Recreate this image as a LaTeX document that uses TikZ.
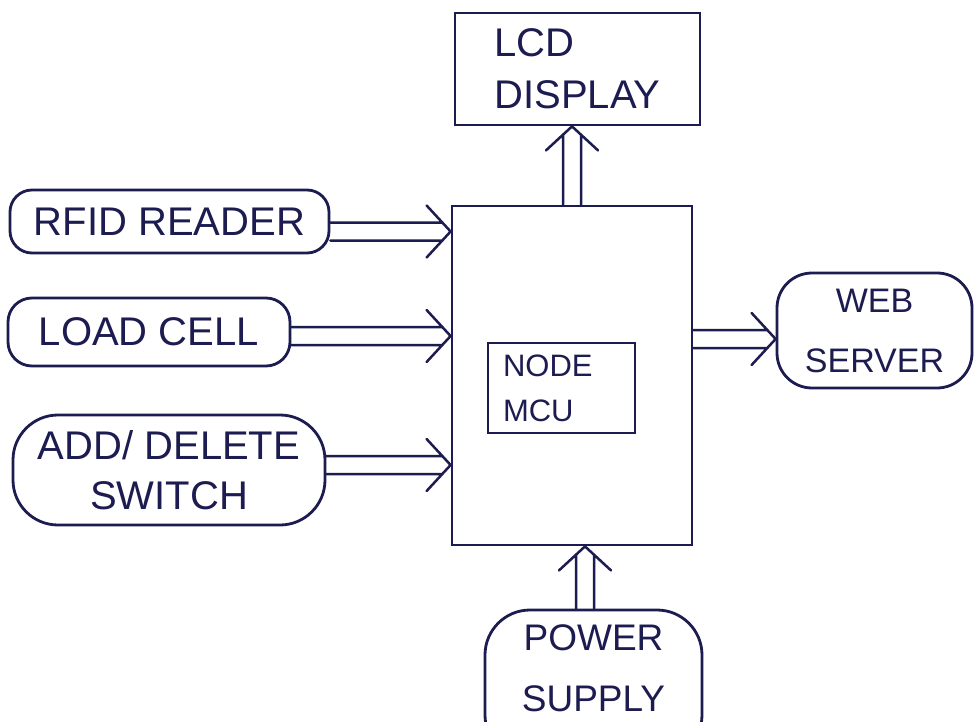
\documentclass[tikz,border=0pt]{standalone}
\usepackage{fontspec}
\setmainfont{Liberation Sans}
\usetikzlibrary{calc}
\definecolor{ink}{RGB}{28,28,80}
\begin{document}
\begin{tikzpicture}[x=1pt,y=-1pt,
  box/.style={draw=ink, line width=2.8pt, text=ink, inner sep=0pt, align=center},
  pill/.style={box, rounded corners=#1},
  pair/.style={draw=ink, line width=2.5pt, line cap=round, line join=round,
    to path={
      ($(\tikztostart)!9pt!-90:(\tikztotarget)$) -- ($(\tikztotarget)!8.3pt!(\tikztostart)!9pt!90:(\tikztostart)$)
      ($(\tikztostart)!9pt!90:(\tikztotarget)$) -- ($(\tikztotarget)!8.3pt!(\tikztostart)!9pt!-90:(\tikztostart)$)
      ($(\tikztotarget)!24pt!(\tikztostart)!26pt!90:(\tikztostart)$) -- (\tikztotarget) -- ($(\tikztotarget)!24pt!(\tikztostart)!26pt!-90:(\tikztostart)$)
    }}
]
\useasboundingbox (0,0) rectangle (974,722);
\fill[white] (0,0) rectangle (974,722);

% nodes
\node[box, minimum width=245pt, minimum height=112pt, align=left,
      font=\fontsize{40}{52}\selectfont] (lcd) at (577.5,69) {LCD\\DISPLAY};
\node[box, minimum width=240pt, minimum height=339pt] (main) at (572,375.5) {};
\node[box, minimum width=147pt, minimum height=90pt, text width=117pt, align=left,
      font=\fontsize{31}{45}\selectfont] (mcu) at (561.5,388) {NODE\\MCU};
\node[pill=22pt, minimum width=319pt, minimum height=63pt,
      font=\fontsize{40}{50}\selectfont] (rfid) at (169.5,221.5) {RFID READER};
\node[pill=24pt, minimum width=282pt, minimum height=68pt,
      font=\fontsize{40}{50}\selectfont] (load) at (149,332) {LOAD CELL};
\node[pill=45pt, minimum width=312pt, minimum height=110pt,
      font=\fontsize{40}{50}\selectfont] (adel) at (169,470) {ADD/ DELETE\\SWITCH};
\node[pill=35pt, minimum width=195pt, minimum height=115pt,
      font=\fontsize{34}{60}\selectfont] (web) at (874.5,330.5) {WEB\\SERVER};
\node[pill=45pt, minimum width=217pt, minimum height=150pt] (ps) at (593.5,685) {};
\node[text=ink, inner sep=0pt, align=center, font=\fontsize{37}{61}\selectfont]
      (pstext) at (593.5,668) {POWER\\SUPPLY};

% connectors
\coordinate (r) at ($(rfid.east)+(0,10)$);
\draw[pair] (r) to (r -| main.west);
\coordinate (l) at ($(load.east)+(0,4)$);
\draw[pair] (l) to (l -| main.west);
\coordinate (s) at ($(adel.east)+(0,-5)$);
\draw[pair] (s) to (s -| main.west);
\draw[pair] (main.north) to (main.north |- lcd.south);
\coordinate (w) at ($(main.east)+(0,-36.5)$);
\draw[pair] (w) to (w -| web.west);
\coordinate (p) at ($(ps.north)+(-8.5,0)$);
\draw[pair] (p) to (p |- main.south);
\end{tikzpicture}
\end{document}
